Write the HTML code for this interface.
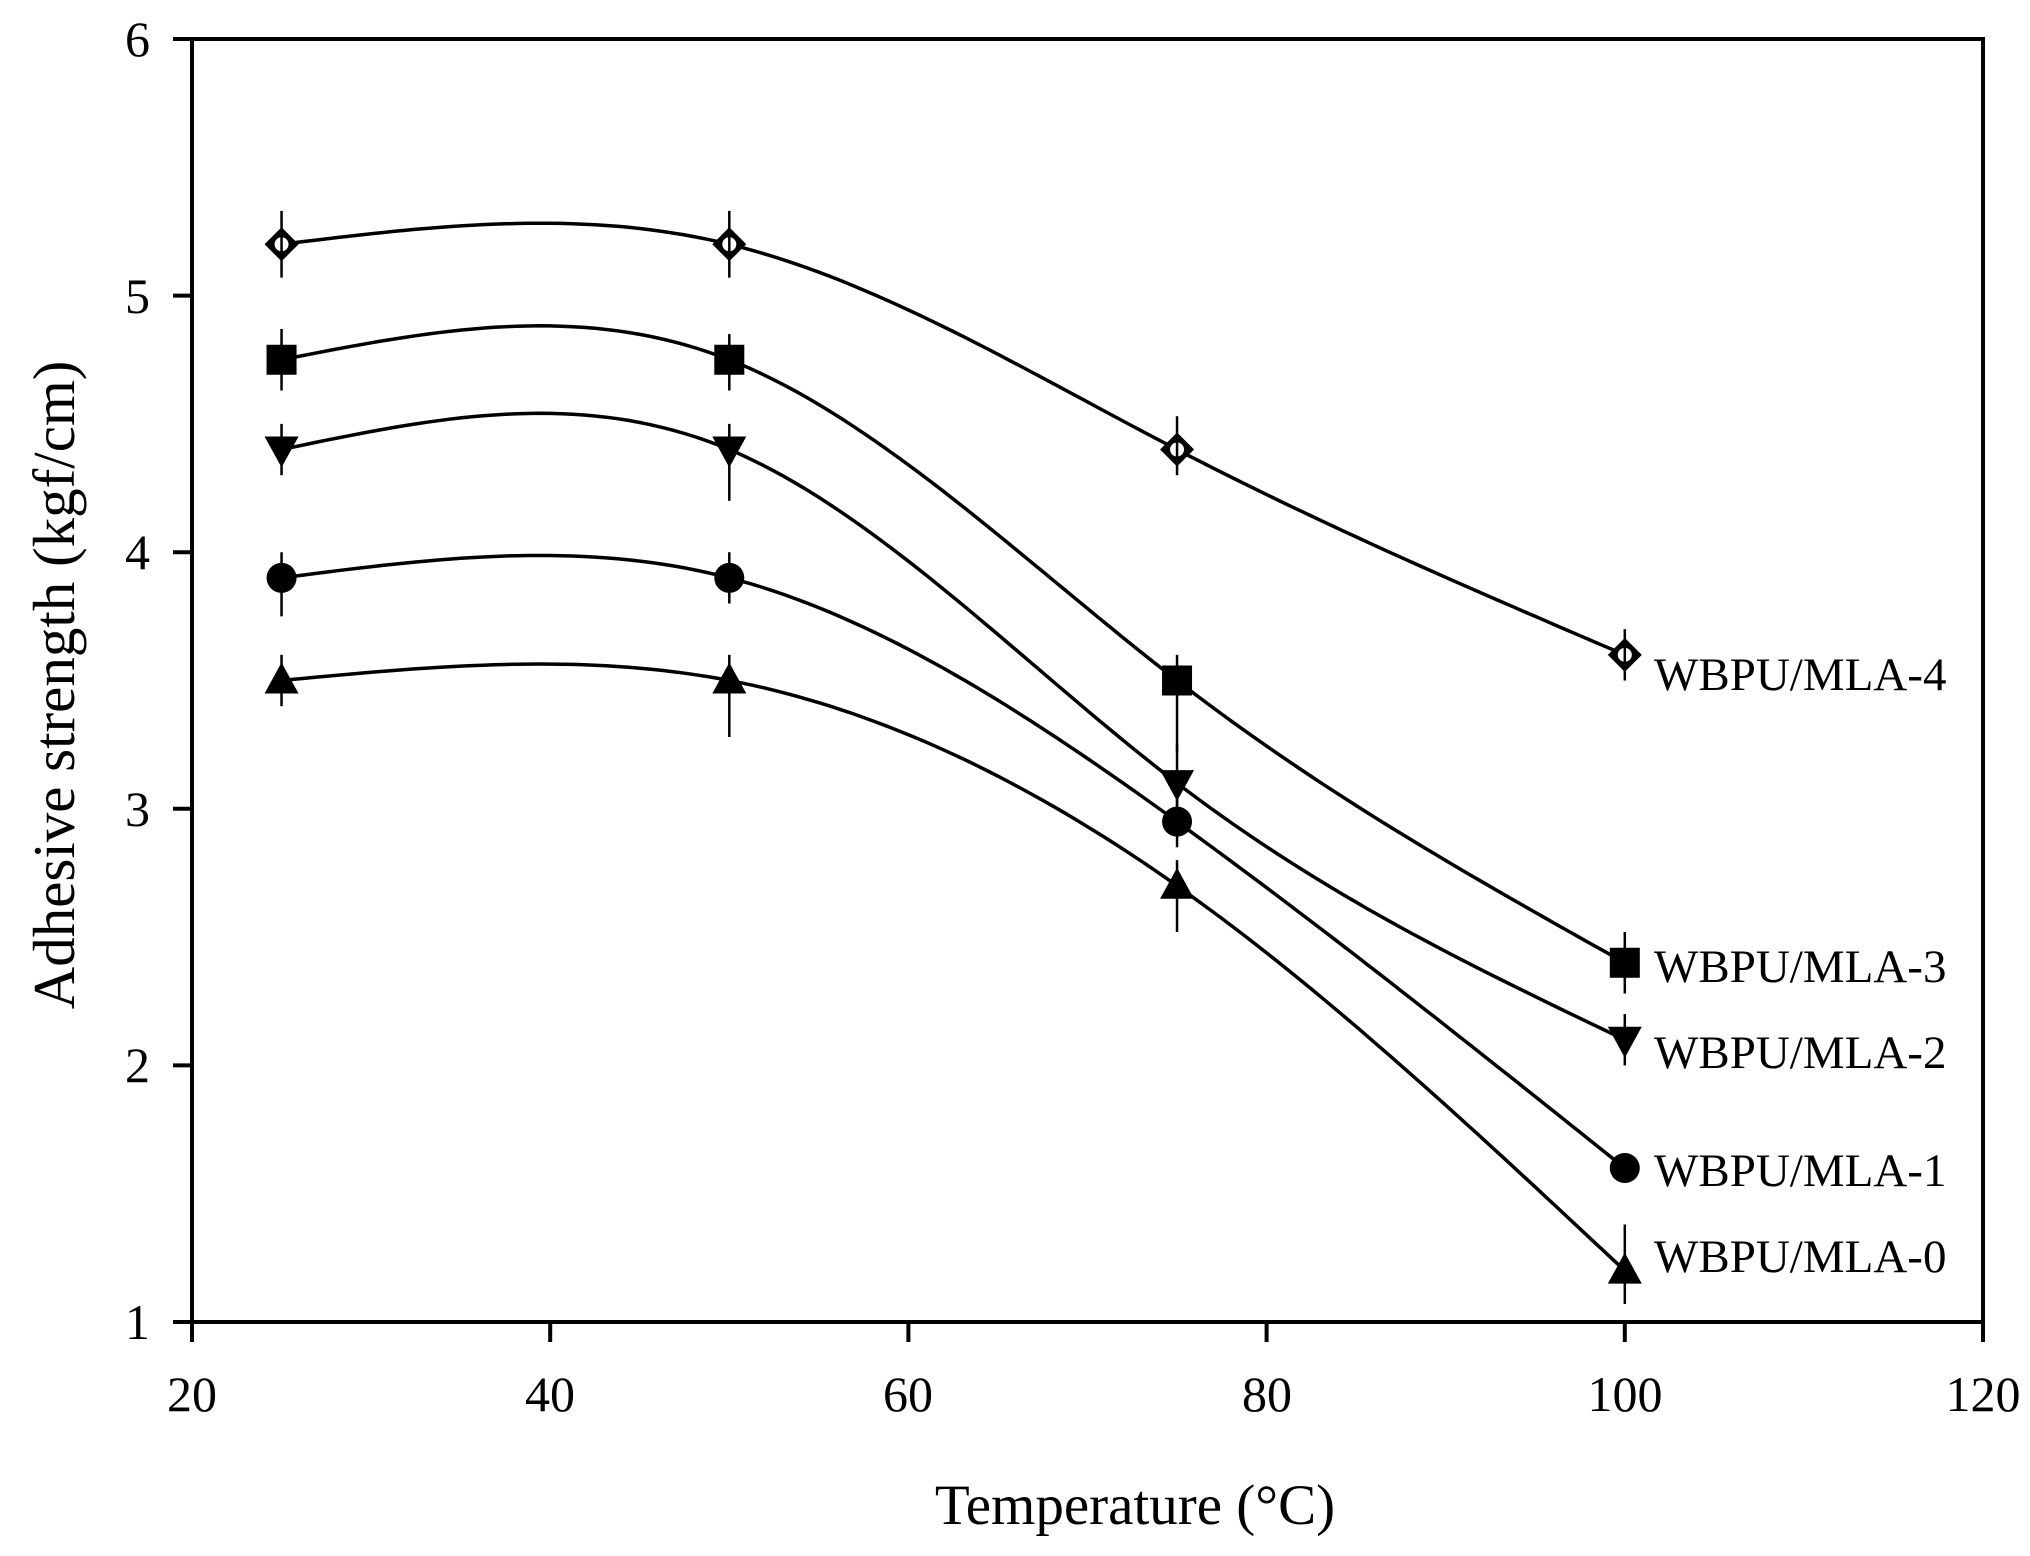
<!DOCTYPE html>
<html><head><meta charset="utf-8"><style>
html,body{margin:0;padding:0;background:#fff;}
svg{display:block;}
text{font-family:"Liberation Serif","Times New Roman",serif;fill:#000;}
</style></head><body>
<svg id="s" width="2030" height="1556" viewBox="0 0 2030 1556" xmlns="http://www.w3.org/2000/svg">
<rect x="0" y="0" width="2030" height="1556" fill="#fff"/>
<g id="plot"></g>
<rect x="192" y="39" width="1791" height="1283" fill="none" stroke="#000" stroke-width="4"/>
<g stroke="#000" stroke-width="4" id="ticks"></g>
<g font-size="50" text-anchor="end">
<text x="150" y="56">6</text><text x="150" y="313">5</text><text x="150" y="569">4</text>
<text x="150" y="826">3</text><text x="150" y="1082">2</text><text x="150" y="1339">1</text>
</g>
<g font-size="50" text-anchor="middle">
<text x="192" y="1411">20</text><text x="550" y="1411">40</text><text x="908" y="1411">60</text>
<text x="1267" y="1411">80</text><text x="1625" y="1411">100</text><text x="1983" y="1411">120</text>
</g>
<text x="1135" y="1524" font-size="57" text-anchor="middle">Temperature (°C)</text>
<text transform="translate(74,685) rotate(-90)" font-size="59" text-anchor="middle">Adhesive strength (kgf/cm)</text>
<g font-size="47">
<text x="1654" y="690">WBPU/MLA-4</text>
<text x="1654" y="982">WBPU/MLA-3</text>
<text x="1654" y="1068">WBPU/MLA-2</text>
<text x="1654" y="1186">WBPU/MLA-1</text>
<text x="1654" y="1272">WBPU/MLA-0</text>
</g>
</svg>
<script>
var NS="http://www.w3.org/2000/svg";
function X(v){return 192+(v-20)*17.91;}
function Y(v){return 1322-(v-1)*256.6;}
var g=document.getElementById('plot'),tk=document.getElementById('ticks');
function el(n,a,p){var e=document.createElementNS(NS,n);for(var k in a)e.setAttribute(k,a[k]);(p||g).appendChild(e);return e;}
for(var i=1;i<=6;i++)el('line',{x1:173,x2:192,y1:Y(i),y2:Y(i)},tk);
for(var i=20;i<=120;i+=20)el('line',{x1:X(i),x2:X(i),y1:1322,y2:1342},tk);
var xs=[25,50,75,100];
var S=[
 {y:[5.2,5.2,4.4,3.6],m:'d',e:[[0.13,0.13],[0.13,0.13],[0.13,0.1],[0.1,0.1]]},
 {y:[4.75,4.75,3.5,2.4],m:'s',e:[[0.12,0.12],[0.1,0.12],[0.1,0.28],[0.12,0.12]]},
 {y:[4.4,4.4,3.1,2.1],m:'v',e:[[0.1,0.1],[0.1,0.2],[0.15,0.1],[0.1,0.1]]},
 {y:[3.9,3.9,2.95,1.6],m:'o',e:[[0.1,0.15],[0.1,0.1],[0.1,0.1],[0.05,0.05]]},
 {y:[3.5,3.5,2.7,1.2],m:'t',e:[[0.1,0.1],[0.1,0.22],[0.1,0.18],[0.18,0.13]]}
];
S.forEach(function(s){
 var y=s.y;
 var d1=6*(y[2]-2*y[1]+y[0]),d2=6*(y[3]-2*y[2]+y[1]);
 var M1=(4*d1-d2)/15,M2=(4*d2-d1)/15,M=[0,M1,M2,0];
 var pts=[];
 for(var k=0;k<3;k++)for(var j=0;j<=40;j++){var t=j/40;
  var v=(1-t)*y[k]+t*y[k+1]+((Math.pow(1-t,3)-(1-t))*M[k]+(t*t*t-t)*M[k+1])/6;
  pts.push(X(xs[k]+25*t).toFixed(1)+','+Y(v).toFixed(1));}
 el('polyline',{points:pts.join(' '),fill:'none',stroke:'#000','stroke-width':3.5});
 for(var k=0;k<4;k++){
  var cx=X(xs[k]),cy=Y(y[k]);
  el('line',{x1:cx,x2:cx,y1:Y(y[k]+s.e[k][0]),y2:Y(y[k]-s.e[k][1]),stroke:'#000','stroke-width':2.5});
  if(s.m=='d'){var r=17;el('polygon',{points:(cx-r)+','+cy+' '+cx+','+(cy-r)+' '+(cx+r)+','+cy+' '+cx+','+(cy+r),fill:'#000'});
   el('circle',{cx:cx,cy:cy,r:7,fill:'#fff'});el('line',{x1:cx,x2:cx,y1:cy-8,y2:cy+8,stroke:'#000','stroke-width':2.5});}
  else if(s.m=='s')el('rect',{x:cx-15,y:cy-15,width:30,height:30,fill:'#000'});
  else if(s.m=='o')el('circle',{cx:cx,cy:cy,r:15,fill:'#000'});
  else if(s.m=='v')el('polygon',{points:(cx-17)+','+(cy-13)+' '+(cx+17)+','+(cy-13)+' '+cx+','+(cy+18),fill:'#000'});
  else el('polygon',{points:(cx-17)+','+(cy+13)+' '+(cx+17)+','+(cy+13)+' '+cx+','+(cy-18),fill:'#000'});
 }
});
</script>
</body></html>
